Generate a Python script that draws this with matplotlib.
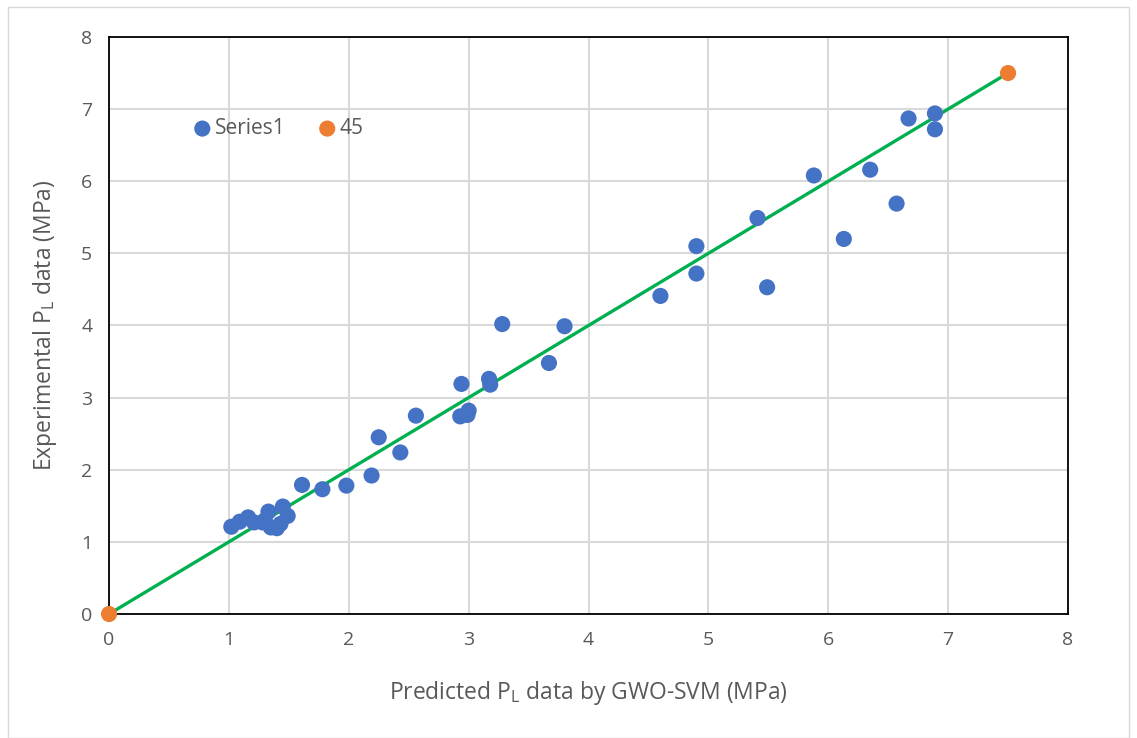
import matplotlib
matplotlib.use("Agg")
import matplotlib.pyplot as plt
from matplotlib.patches import Rectangle

# predicted (x) vs experimental (y) PL values
pred = [1.02, 1.09, 1.16, 1.21, 1.28, 1.33, 1.35, 1.40, 1.43, 1.45, 1.49, 1.30,
        1.61, 1.78, 1.98, 2.19, 2.25, 2.43, 2.56, 2.94, 2.93, 2.99, 3.00, 3.17,
        3.18, 3.28, 3.67, 3.80, 4.60, 4.90, 4.90, 5.41, 5.49, 5.88, 6.13, 6.35,
        6.57, 6.67, 6.89, 6.89]
expt = [1.21, 1.28, 1.34, 1.27, 1.27, 1.42, 1.20, 1.19, 1.25, 1.49, 1.36, 1.30,
        1.79, 1.73, 1.78, 1.92, 2.45, 2.24, 2.75, 3.19, 2.74, 2.76, 2.82, 3.26,
        3.18, 4.02, 3.48, 3.99, 4.41, 5.10, 4.72, 5.49, 4.53, 6.08, 5.20, 6.16,
        5.69, 6.87, 6.94, 6.72]
line45_x = [0, 7.5]
line45_y = [0, 7.5]
ticks = [0, 1, 2, 3, 4, 5, 6, 7, 8]

plt.rcParams['font.family'] = ['Open Sans', 'DejaVu Sans']
txt = '#595959'

fig = plt.figure(figsize=(11.37, 7.38), dpi=100)
fig.patches.append(Rectangle((0.007, 0.0), 0.986, 0.99, transform=fig.transFigure,
                             fill=False, edgecolor='#d9d9d9', lw=1))
ax = fig.add_axes([0.0959, 0.168, 0.8434, 0.7819])

ax.plot(line45_x, line45_y, color='#00B050', lw=2.4, zorder=2)
ax.scatter(pred, expt, s=135, color='#4472C4', zorder=3, label='Series1', edgecolors='none')
ax.scatter(line45_x, line45_y, s=135, color='#ED7D31', zorder=4, label='45',
           edgecolors='none', clip_on=False)

ax.set_xlim(0, 8)
ax.set_ylim(0, 8)
ax.set_xticks(ticks)
ax.set_yticks(ticks)
ax.grid(True, color='#d9d9d9', lw=1.5)
ax.set_axisbelow(True)
for s in ax.spines.values():
    s.set_color('black')
    s.set_linewidth(1.3)
ax.tick_params(length=0, labelsize=14, colors=txt, pad=12)

ax.set_xlabel(r'Predicted $\mathregular{P_L}$ data by GWO-SVM (MPa)', fontsize=16.5, color=txt, labelpad=22)
ax.set_ylabel(r'Experimental $\mathregular{P_L}$ data (MPa)', fontsize=16.5, color=txt, labelpad=16)

ax.legend(loc='upper left', bbox_to_anchor=(0.056, 0.892), ncol=2, frameon=False,
          fontsize=15, labelcolor=txt, handletextpad=-0.4, columnspacing=1.0,
          markerscale=1.0)

fig.savefig('out.png', dpi=100)
